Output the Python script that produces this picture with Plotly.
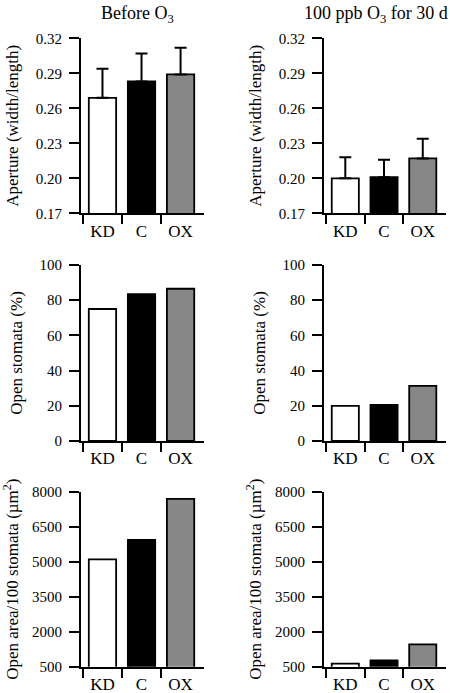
import plotly.graph_objects as go

categories = ["KD", "C", "OX"]
colors = ["#ffffff", "#000000", "#878787"]

aperture_before = [0.269, 0.283, 0.289]
aperture_before_err = [0.025, 0.024, 0.023]
aperture_after = [0.200, 0.201, 0.217]
aperture_after_err = [0.018, 0.015, 0.017]

open_before = [75.0, 83.5, 86.5]
open_after = [20.0, 20.5, 31.3]

area_before = [5100, 5930, 7690]
area_after = [630, 770, 1460]

col_titles = ["Before O<sub>3</sub>", "100 ppb O<sub>3</sub> for 30 d"]
row_titles = ["Aperture (width/length)", "Open stomata (%)",
              "Open area/100 stomata (µm<sup>2</sup>)"]
row_ranges = [[0.17, 0.32], [0, 100], [500, 8000]]
row_ticks = [[0.17, 0.20, 0.23, 0.26, 0.29, 0.32],
             [0, 20, 40, 60, 80, 100],
             [500, 2000, 3500, 5000, 6500, 8000]]
row_fmt = [".2f", "d", "d"]
row_standoff = [13, 13, 9]

W, H = 450, 693
FONT = "Liberation Serif"

x_dom = [[81 / W, 204 / W], [324 / W, 446 / W]]
y_pix = [(38.3, 213.3), (25 + 240, 441), (491.7, 666.7)]
y_dom = [[1 - b / H, 1 - t / H] for t, b in y_pix]

panels = [
    (0, 0, aperture_before, aperture_before_err),
    (0, 1, aperture_after, aperture_after_err),
    (1, 0, open_before, None),
    (1, 1, open_after, None),
    (2, 0, area_before, None),
    (2, 1, area_after, None),
]

fig = go.Figure()
layout = {}
for i, (r, c, vals, errs) in enumerate(panels):
    n = i + 1
    xa = "x" if n == 1 else f"x{n}"
    ya = "y" if n == 1 else f"y{n}"
    tr = dict(
        x=[0, 1, 2], y=vals, width=0.70,
        marker=dict(color=colors, line=dict(color="black", width=1.8)),
        xaxis=xa, yaxis=ya, showlegend=False, hoverinfo="skip",
    )
    if errs is not None:
        tr["error_y"] = dict(type="data", symmetric=False, array=errs,
                             arrayminus=[0, 0, 0], color="black",
                             thickness=2, width=6)
    fig.add_trace(go.Bar(**tr))
    xkey = "xaxis" if n == 1 else f"xaxis{n}"
    ykey = "yaxis" if n == 1 else f"yaxis{n}"
    layout[xkey] = dict(
        domain=x_dom[c], anchor=ya, range=[-0.55, 2.6],
        tickvals=[0, 1, 2], ticktext=categories, ticks="",
        ticklabelstandoff=1, automargin=False,
        minor=dict(tickvals=[-0.5, 0.5, 1.5], ticks="outside",
                   ticklen=9, tickwidth=2, tickcolor="black"),
        showline=True, linecolor="black", linewidth=2,
        showgrid=False, zeroline=False, fixedrange=True,
        tickfont=dict(family=FONT, size=17, color="black"),
    )
    layout[ykey] = dict(
        domain=y_dom[r], anchor=xa, range=row_ranges[r],
        tickvals=row_ticks[r], tickformat=row_fmt[r],
        ticks="outside", ticklen=10, tickwidth=2, tickcolor="black",
        ticklabelstandoff=4, automargin=False,
        showline=True, linecolor="black", linewidth=2,
        showgrid=False, zeroline=False, fixedrange=True,
        tickfont=dict(family=FONT, size=15, color="black"),
        title=dict(text=row_titles[r], standoff=row_standoff[r],
                   font=dict(family=FONT, size=17, color="black")),
    )

annotations = []
for c, txt in enumerate(col_titles):
    annotations.append(dict(
        text=txt, xref="paper", yref="paper",
        x=[137 / W, 376 / W][c], y=1 - 14 / H,
        xanchor="center", yanchor="middle", showarrow=False,
        font=dict(family=FONT, size=18, color="black"),
    ))

fig.update_layout(
    width=W, height=H, autosize=False,
    margin=dict(l=0, r=0, t=0, b=0, pad=0, autoexpand=False),
    paper_bgcolor="white", plot_bgcolor="white",
    bargap=0.3,
    annotations=annotations,
    font=dict(family=FONT, color="black"),
    hovermode=False,
    **layout,
)

fig.write_html(
    "out.html",
    config={"displayModeBar": False, "staticPlot": True},
    post_script="document.body.style.margin='0';document.body.style.overflow='hidden';",
)
